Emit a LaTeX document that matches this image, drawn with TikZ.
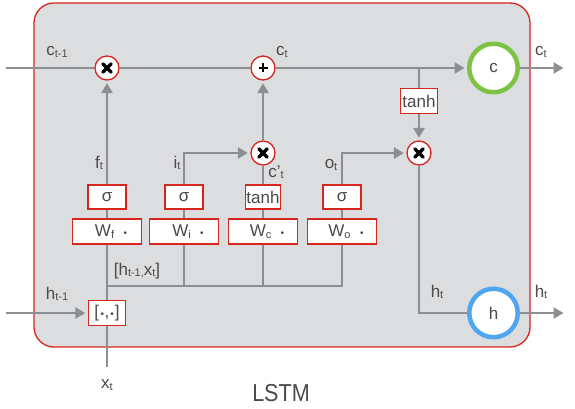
\documentclass[tikz,border=0pt]{standalone}
\usepackage{fontspec}
\setmainfont{Liberation Sans}
\usetikzlibrary{arrows.meta}
\definecolor{lgray}{HTML}{8C8E91}
\definecolor{boxred}{HTML}{D7261E}
\definecolor{cellbg}{HTML}{DCDDDF}
\definecolor{txt}{HTML}{4A4A4A}
\definecolor{cgreen}{HTML}{7DC242}
\definecolor{hblue}{HTML}{4FA6F0}
\newcommand\sbt[1]{\raisebox{-1.5pt}{\fontsize{11}{11}\selectfont #1}}
\newcommand\lbl[2]{{\fontsize{17}{17}\selectfont #1}\sbt{#2}}
\newcommand\dotb{{\fontsize{10}{10}\selectfont •}}
\begin{document}
\begin{tikzpicture}[x=1pt,y=-1pt,
 conn/.style={draw=lgray,line width=2.5pt},
 arr/.style={conn,-{Triangle[length=10pt,width=11pt]},shorten >=2.5pt},
 gatebox/.style={draw=boxred,fill=white,line width=1.3pt,minimum width=38pt,minimum height=24pt,inner sep=0pt,font=\fontsize{17}{17}\selectfont,text=txt},
 wbox/.style={gatebox,minimum width=69pt,minimum height=25pt},
 op/.style={circle,draw=boxred,fill=white,line width=1.3pt,minimum size=24pt,inner sep=0pt},
 sym/.style={line width=3.2pt,line cap=round,black},
 lab/.style={text=txt,inner sep=0pt},
 memcirc/.style={circle,fill=white,line width=4.5pt,minimum size=48.5pt,inner sep=0pt,font=\fontsize{17}{17}\selectfont,text=txt}
]
\useasboundingbox (0,0) rectangle (575,409);
\draw[draw=boxred,fill=cellbg,line width=1.3pt,rounded corners=20pt] (34,3) rectangle (530,347);

% nodes
\node[op] (fm) at (107,68) {};
\node[op] (pl) at (263,68) {};
\node[op] (im) at (263,153) {};
\node[op] (om) at (419,153) {};
\node[memcirc,draw=cgreen] (c) at (493.5,68) {c};
\node[memcirc,draw=hblue] (h) at (493.5,313) {h};
\node[gatebox,minimum width=37pt,minimum height=25pt] (th) at (419,101) {tanh};
\node[gatebox] (sf) at (107,197) {σ};
\node[gatebox] (si) at (184,197) {σ};
\node[gatebox,minimum width=35pt] (sc) at (263,197) {tanh};
\node[gatebox] (so) at (342,197) {σ};
\node[wbox] (wf) at (107,231.5) {\hspace*{8pt}W\sbt{f}\ \ \dotb};
\node[wbox] (wi) at (184,231.5) {\hspace*{8pt}W\sbt{i}\ \ \dotb};
\node[wbox] (wc) at (263,231.5) {\hspace*{8pt}W\sbt{c}\ \ \dotb};
\node[wbox] (wo) at (342,231.5) {\hspace*{8pt}W\sbt{o}\ \ \dotb};
\node[gatebox,minimum width=37pt,minimum height=25pt] (cat) at (107,313) {[\kern1.5pt\dotb\kern0.5pt,\kern1pt\dotb\kern1pt]};

% operator symbols
\foreach \n in {fm,im,om}{
  \draw[sym] ([shift={(-4.2,-4.2)}]\n.center) -- ([shift={(4.2,4.2)}]\n.center);
  \draw[sym] ([shift={(-4.2,4.2)}]\n.center) -- ([shift={(4.2,-4.2)}]\n.center);
}
\draw[sym,line width=2.8pt,line cap=butt] ([shift={(-4.5,0)}]pl.center) -- ([shift={(4.5,0)}]pl.center);
\draw[sym,line width=2.8pt,line cap=butt] ([shift={(0,-4.5)}]pl.center) -- ([shift={(0,4.5)}]pl.center);

% coordinates
\coordinate (cin) at (6,68);
\coordinate (br) at (419,68);
\coordinate (cout) at (566,68);
\coordinate (hin) at (6,313);
\coordinate (hout) at (566,313);
\coordinate (xin) at (107,367);
\coordinate (bus) at (107,286);

% connectors
\draw[conn] (cin) -- (fm);
\draw[conn] (fm) -- (pl);
\draw[arr] (pl) -- (c);
\draw[arr] (c) -- (cout);
\draw[conn] (br) -- (th);
\draw[arr] (th) -- (om);
\draw[arr] (sf) -- (fm);
\draw[arr] (si.north) |- (im);
\draw[conn] (sc) -- (im);
\draw[arr] (im) -- (pl);
\draw[arr] (so.north) |- (om);
\draw[conn] (om) |- (h);
\draw[arr] (h) -- (hout);
\draw[arr] (hin) -- (cat);
\draw[conn] (xin) -- (cat);
\draw[conn] (cat) -- (wf);
\draw[conn] (wf) -- (sf);
\draw[conn] (wi) -- (si);
\draw[conn] (wc) -- (sc);
\draw[conn] (wo) -- (so);
\draw[conn] (bus) -| (wo.south);
\draw[conn] (wi.south) -- (wi.south |- bus);
\draw[conn] (wc.south) -- (wc.south |- bus);

% labels
\node[lab] (l1) at (57,52) {\lbl{c}{t-1}};
\node[lab] (l2) at (282,52) {\lbl{c}{t}};
\node[lab] (l3) at (541,52) {\lbl{c}{t}};
\node[lab] (l4) at (99,163) {\lbl{f}{t}};
\node[lab] (l5) at (177,163) {\lbl{i}{t}};
\node[lab] (l6) at (276,172) {\lbl{c'}{t}};
\node[lab] (l7) at (331,165) {\lbl{o}{t}};
\node[lab] (l8) at (57,294) {\lbl{h}{t-1}};
\node[lab] (l9) at (437,292) {\lbl{h}{t}};
\node[lab] (l10) at (541,292) {\lbl{h}{t}};
\node[lab] (l11) at (107,385) {\lbl{x}{t}};
\node[lab] (l12) at (137,271) {{\fontsize{17}{17}\selectfont [h}\sbt{t-1,}{\fontsize{17}{17}\selectfont x}\sbt{t}{\fontsize{17}{17}\selectfont ]}};
\node[lab] (l13) at (281,393) {\scalebox{0.88}[1]{\fontsize{24.5}{25}\selectfont LSTM}};
\end{tikzpicture}
\end{document}
